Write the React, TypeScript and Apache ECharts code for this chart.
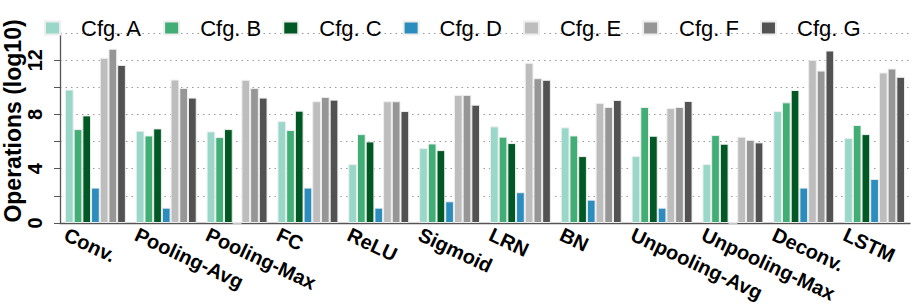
import React, { useEffect, useRef } from "react";
import * as echarts from "echarts";

const categories = ["Conv.", "Pooling-Avg", "Pooling-Max", "FC", "ReLU", "Sigmoid", "LRN", "BN", "Unpooling-Avg", "Unpooling-Max", "Deconv.", "LSTM"];
const seriesNames = ["Cfg. A", "Cfg. B", "Cfg. C", "Cfg. D", "Cfg. E", "Cfg. F", "Cfg. G"];
const cfgA = [9.83, 6.8, 6.75, 7.51, 4.34, 5.52, 7.12, 7.05, 4.93, 4.34, 8.25, 6.26];
const cfgB = [6.92, 6.45, 6.33, 6.85, 6.55, 5.86, 6.36, 6.45, 8.55, 6.48, 8.89, 7.22];
const cfgC = [7.93, 6.97, 6.92, 8.28, 6.01, 5.37, 5.89, 4.93, 6.43, 5.84, 9.8, 6.55];
const cfgD = [2.61, 1.13, 0, 2.61, 1.13, 1.6, 2.27, 1.72, 1.13, 0, 2.61, 3.25];
const cfgE = [12.17, 10.57, 10.55, 8.97, 8.97, 9.44, 11.8, 8.85, 8.47, 6.36, 12.02, 11.09];
const cfgF = [12.84, 9.95, 9.95, 9.29, 8.97, 9.44, 10.67, 8.55, 8.55, 6.13, 11.23, 11.38];
const cfgG = [11.65, 9.24, 9.24, 9.09, 8.25, 8.72, 10.55, 9.07, 8.99, 5.94, 12.71, 10.77];
const seriesValues = [cfgA, cfgB, cfgC, cfgD, cfgE, cfgF, cfgG];
const colors = ["#99d8c9", "#41ae76", "#005824", "#2b8cbe", "#bdbdbd", "#969696", "#525252"];
const yTickLabels = [0, 4, 8, 12];

const FONT = "Liberation Sans, Arial, Helvetica, sans-serif";

export default function App() {
  const ref = useRef<HTMLDivElement>(null);
  useEffect(() => {
    if (!ref.current) return;
    const chart = echarts.init(ref.current, null, { renderer: "svg" });
    chart.setOption({
      animation: false,
      textStyle: { fontFamily: FONT },
      legend: {
        data: seriesNames,
        left: 39,
        top: 12,
        itemWidth: 15,
        itemHeight: 13,
        itemGap: 21,
        icon: "rect",
        textStyle: { fontSize: 22, color: "#000", fontFamily: FONT, padding: [0, 0, 0, 16] },
      },
      grid: { left: 60, right: 3, top: 33, bottom: 82, containLabel: false, outerBoundsMode: "none" },
      xAxis: [
        {
          type: "category",
          data: categories,
          boundaryGap: true,
          axisLine: { show: true, lineStyle: { color: "#555", width: 1.3 } },
          axisTick: { show: false },
          axisLabel: { show: false },
          splitLine: { show: false },
        },
        {
          type: "category",
          data: [...categories, ""],
          boundaryGap: false,
          position: "bottom",
          axisLine: { show: false },
          axisTick: { show: false },
          splitLine: { show: false },
          axisLabel: {
            interval: 0,
            rotate: -25,
            margin: 8,
            align: "left",
            padding: [0, 0, 0, 6],
            fontSize: 20,
            fontWeight: "bold",
            color: "#000",
            fontFamily: FONT,
          },
        },
      ],
      yAxis: {
        type: "value",
        min: 0,
        max: 14,
        interval: 2,
        name: "Operations (log10)",
        nameLocation: "middle",
        nameGap: 36,
        nameMoveOverlap: false,
        nameTextStyle: { fontSize: 23, fontWeight: "bold", color: "#000", fontFamily: FONT, padding: [0, 0, 0, 14] },
        axisLine: { show: true, lineStyle: { color: "#555", width: 1.3 } },
        axisTick: { show: true, length: 6, lineStyle: { color: "#555" } },
        axisLabel: {
          rotate: 90,
          margin: 15,
          fontSize: 20,
          fontWeight: "bold",
          color: "#000",
          fontFamily: FONT,
          formatter: (v: number) => (yTickLabels.includes(v) ? String(v) : ""),
        },
        splitLine: { show: true, lineStyle: { type: [1.5, 4], color: "#999", width: 1.2 } },
      },
      series: seriesNames.map((name, i) => ({
        name,
        type: "bar",
        data: seriesValues[i],
        barGap: "0%",
        barCategoryGap: "14%",
        itemStyle: { color: colors[i], borderColor: "#eeeeee", borderWidth: 1 },
      })),
    });
    return () => chart.dispose();
  }, []);
  return <div ref={ref} style={{ width: 913, height: 305, position: "absolute", left: 0, top: 0 }} />;
}
